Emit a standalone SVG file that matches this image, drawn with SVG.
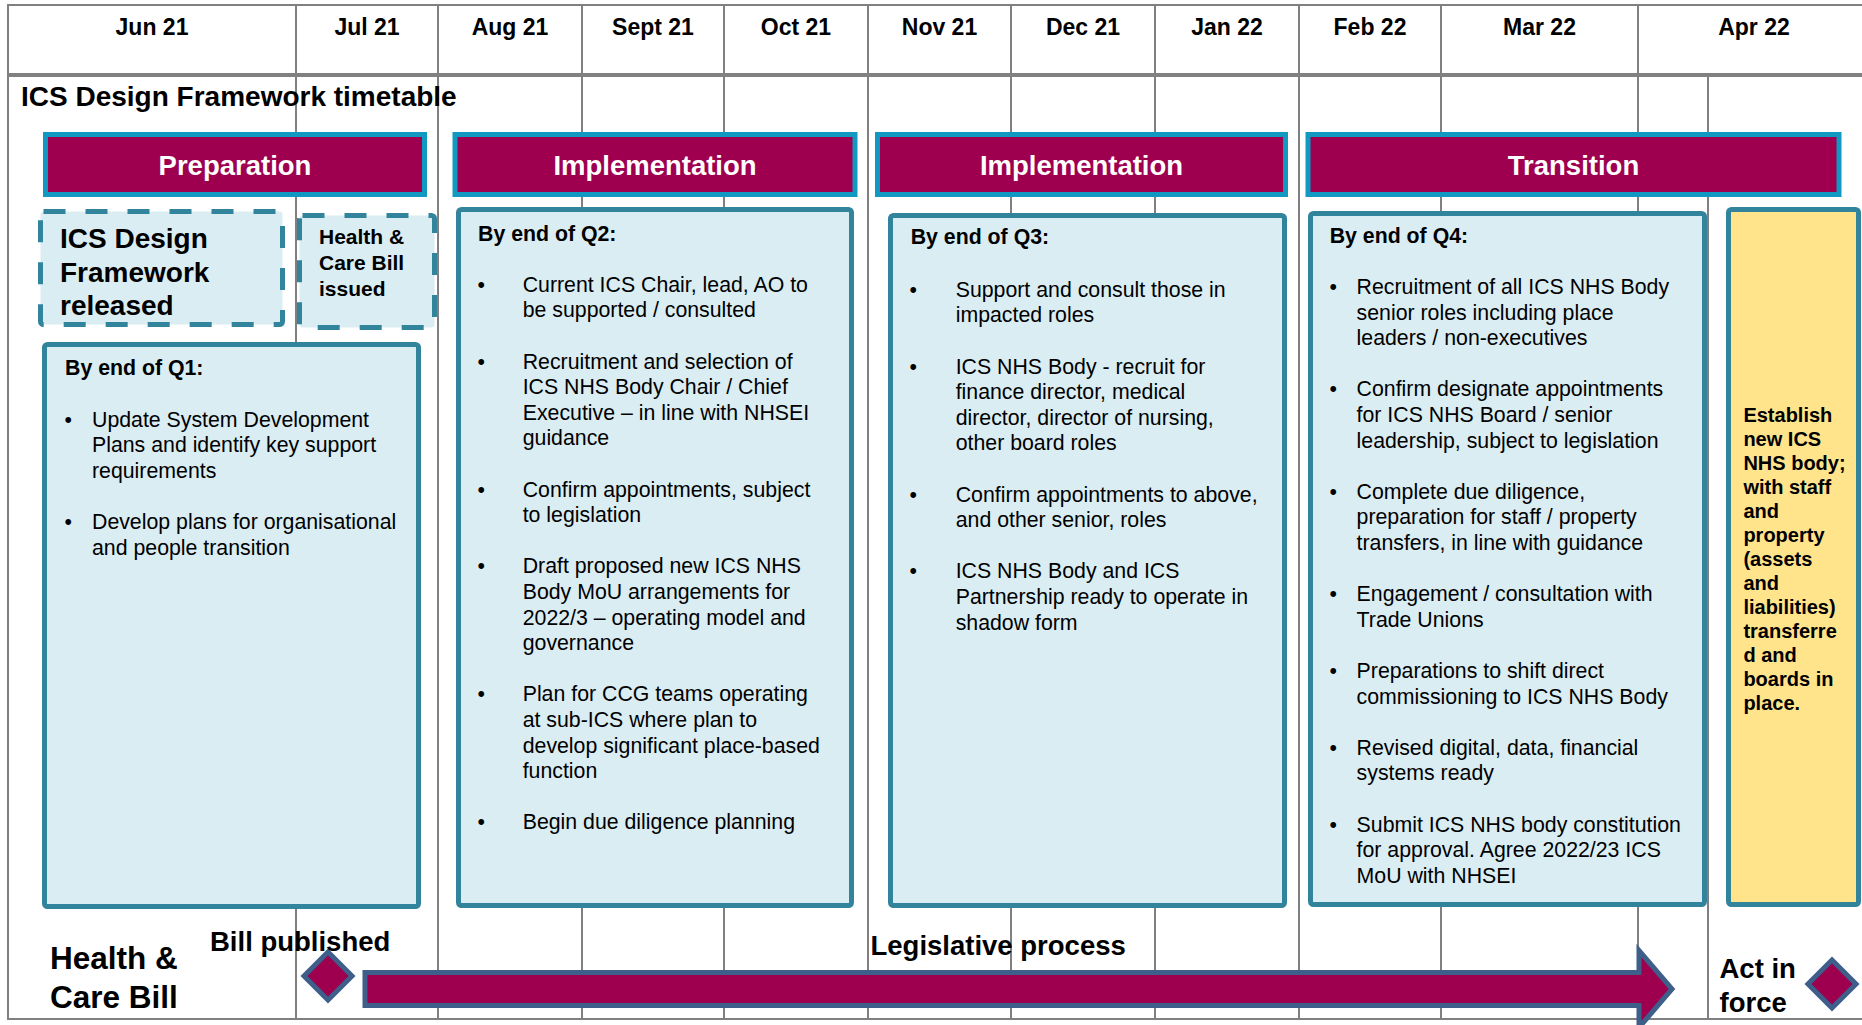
<svg xmlns="http://www.w3.org/2000/svg" width="1862" height="1025" viewBox="0 0 1862 1025">
<style>
.grid line{stroke:#808080;stroke-width:2}
.ban{fill:#9e004f;stroke:#1199c2;stroke-width:5}
.bt{fill:#fff;font-family:"Liberation Sans",Arial,sans-serif;font-weight:bold;font-size:27.5px;text-anchor:middle}
.box{fill:#daedf3;stroke:#31849b;stroke-width:5}
.dash{fill:#daedf3;stroke:#31849b;stroke-width:5;stroke-dasharray:22 20}
.yel{fill:#ffe48c;stroke:#31849b;stroke-width:5}
.t{font-family:"Liberation Sans",Arial,sans-serif;font-size:21.3px;fill:#000}
.h{font-family:"Liberation Sans",Arial,sans-serif;font-weight:bold;fill:#000}
.mon{font-family:"Liberation Sans",Arial,sans-serif;font-weight:bold;font-size:23px;text-anchor:middle;fill:#000}
.ms{fill:#9e004f;stroke:#3d5f8a;stroke-width:5}
</style>
<rect width="1862" height="1025" fill="#fff"/>
<g id="grid" class="grid">
<line x1="8" y1="5" x2="1862" y2="5"/>
<line x1="8" y1="4" x2="8" y2="1020"/>
<line x1="8" y1="1019" x2="1862" y2="1019"/>
<line x1="8" y1="75" x2="1862" y2="75" style="stroke-width:4"/>
<line x1="296" y1="5" x2="296" y2="1019"/>
<line x1="438" y1="5" x2="438" y2="1019"/>
<line x1="582" y1="5" x2="582" y2="1019"/>
<line x1="724" y1="5" x2="724" y2="1019"/>
<line x1="868" y1="5" x2="868" y2="1019"/>
<line x1="1011" y1="5" x2="1011" y2="1019"/>
<line x1="1155" y1="5" x2="1155" y2="1019"/>
<line x1="1299" y1="5" x2="1299" y2="1019"/>
<line x1="1441" y1="5" x2="1441" y2="1019"/>
<line x1="1638" y1="5" x2="1638" y2="1019"/>
<line x1="1708" y1="77" x2="1708" y2="1019"/>
</g>
<g id="months">
<text class="mon" x="152" y="35">Jun 21</text>
<text class="mon" x="367" y="35">Jul 21</text>
<text class="mon" x="510" y="35">Aug 21</text>
<text class="mon" x="653" y="35">Sept 21</text>
<text class="mon" x="796" y="35">Oct 21</text>
<text class="mon" x="939.5" y="35">Nov 21</text>
<text class="mon" x="1083" y="35">Dec 21</text>
<text class="mon" x="1227" y="35">Jan 22</text>
<text class="mon" x="1370" y="35">Feb 22</text>
<text class="mon" x="1539.5" y="35">Mar 22</text>
<text class="mon" x="1754" y="35">Apr 22</text>
</g>
<text id="title" class="h" x="21" y="106" font-size="28">ICS Design Framework timetable</text>
<g id="phase-preparation"><rect class="ban" x="45.5" y="134.5" width="379" height="60"/><text class="bt" x="235" y="175">Preparation</text></g>
<g id="phase-implementation-1"><rect class="ban" x="455" y="134.5" width="400" height="60"/><text class="bt" x="655" y="175">Implementation</text></g>
<g id="phase-implementation-2"><rect class="ban" x="877.5" y="134.5" width="408" height="60"/><text class="bt" x="1081.5" y="175">Implementation</text></g>
<g id="phase-transition"><rect class="ban" x="1308" y="134.5" width="531" height="60"/><text class="bt" x="1573.5" y="175">Transition</text></g>
<g id="framework-released"><rect class="dash" x="40.5" y="211.5" width="242" height="113" rx="3"/>
<text class="h" font-size="28" x="60" y="248">ICS Design<tspan x="60" y="281.5">Framework</tspan><tspan x="60" y="315">released</tspan></text></g>
<g id="bill-issued"><rect class="dash" x="299.5" y="215.5" width="135" height="112" rx="3"/>
<text class="h" font-size="21" x="319" y="244">Health &amp;<tspan x="319" y="270">Care Bill</tspan><tspan x="319" y="296">issued</tspan></text></g>
<g id="q1"><rect class="box" x="44.5" y="344.5" width="374" height="562" rx="3"/>
<text class="h" font-size="21.3" x="65" y="375">By end of Q1:</text>
<text class="t" x="64.5" y="426.7">•</text><text class="t" x="92" y="426.7">Update System Development<tspan x="92" dy="25.6">Plans and identify key support</tspan><tspan x="92" dy="25.6">requirements</tspan></text>
<text class="t" x="64.5" y="529.1">•</text><text class="t" x="92" y="529.1">Develop plans for organisational<tspan x="92" dy="25.6">and people transition</tspan></text>
</g>
<g id="q2"><rect class="box" x="458.5" y="209.5" width="393" height="696" rx="3"/>
<text class="h" font-size="21.3" x="478" y="240.7">By end of Q2:</text>
<text class="t" x="477.5" y="291.7">•</text><text class="t" x="522.7" y="291.7">Current ICS Chair, lead, AO to<tspan x="522.7" dy="25.6">be supported / consulted</tspan></text>
<text class="t" x="477.5" y="368.5">•</text><text class="t" x="522.7" y="368.5">Recruitment and selection of<tspan x="522.7" dy="25.6">ICS NHS Body Chair / Chief</tspan><tspan x="522.7" dy="25.6">Executive – in line with NHSEI</tspan><tspan x="522.7" dy="25.6">guidance</tspan></text>
<text class="t" x="477.5" y="496.5">•</text><text class="t" x="522.7" y="496.5">Confirm appointments, subject<tspan x="522.7" dy="25.6">to legislation</tspan></text>
<text class="t" x="477.5" y="573.3">•</text><text class="t" x="522.7" y="573.3">Draft proposed new ICS NHS<tspan x="522.7" dy="25.6">Body MoU arrangements for</tspan><tspan x="522.7" dy="25.6">2022/3 – operating model and</tspan><tspan x="522.7" dy="25.6">governance</tspan></text>
<text class="t" x="477.5" y="701.3">•</text><text class="t" x="522.7" y="701.3">Plan for CCG teams operating<tspan x="522.7" dy="25.6">at sub-ICS where plan to</tspan><tspan x="522.7" dy="25.6">develop significant place-based</tspan><tspan x="522.7" dy="25.6">function</tspan></text>
<text class="t" x="477.5" y="829.3">•</text><text class="t" x="522.7" y="829.3">Begin due diligence planning</text>
</g>
<g id="q3"><rect class="box" x="890.5" y="215.5" width="394" height="690" rx="3"/>
<text class="h" font-size="21.3" x="910.7" y="244">By end of Q3:</text>
<text class="t" x="909.5" y="296.7">•</text><text class="t" x="955.7" y="296.7">Support and consult those in<tspan x="955.7" dy="25.6">impacted roles</tspan></text>
<text class="t" x="909.5" y="373.5">•</text><text class="t" x="955.7" y="373.5">ICS NHS Body - recruit for<tspan x="955.7" dy="25.6">finance director, medical</tspan><tspan x="955.7" dy="25.6">director, director of nursing,</tspan><tspan x="955.7" dy="25.6">other board roles</tspan></text>
<text class="t" x="909.5" y="501.5">•</text><text class="t" x="955.7" y="501.5">Confirm appointments to above,<tspan x="955.7" dy="25.6">and other senior, roles</tspan></text>
<text class="t" x="909.5" y="578.3">•</text><text class="t" x="955.7" y="578.3">ICS NHS Body and ICS<tspan x="955.7" dy="25.6">Partnership ready to operate in</tspan><tspan x="955.7" dy="25.6">shadow form</tspan></text>
</g>
<g id="q4"><rect class="box" x="1310.5" y="213.5" width="394" height="691" rx="3"/>
<text class="h" font-size="21.3" x="1329.7" y="242.7">By end of Q4:</text>
<text class="t" x="1329.5" y="294">•</text><text class="t" x="1356.6" y="294">Recruitment of all ICS NHS Body<tspan x="1356.6" dy="25.6">senior roles including place</tspan><tspan x="1356.6" dy="25.6">leaders / non-executives</tspan></text>
<text class="t" x="1329.5" y="396.4">•</text><text class="t" x="1356.6" y="396.4">Confirm designate appointments<tspan x="1356.6" dy="25.6">for ICS NHS Board / senior</tspan><tspan x="1356.6" dy="25.6">leadership, subject to legislation</tspan></text>
<text class="t" x="1329.5" y="498.8">•</text><text class="t" x="1356.6" y="498.8">Complete due diligence,<tspan x="1356.6" dy="25.6">preparation for staff / property</tspan><tspan x="1356.6" dy="25.6">transfers, in line with guidance</tspan></text>
<text class="t" x="1329.5" y="601.2">•</text><text class="t" x="1356.6" y="601.2">Engagement / consultation with<tspan x="1356.6" dy="25.6">Trade Unions</tspan></text>
<text class="t" x="1329.5" y="678">•</text><text class="t" x="1356.6" y="678">Preparations to shift direct<tspan x="1356.6" dy="25.6">commissioning to ICS NHS Body</tspan></text>
<text class="t" x="1329.5" y="754.8">•</text><text class="t" x="1356.6" y="754.8">Revised digital, data, financial<tspan x="1356.6" dy="25.6">systems ready</tspan></text>
<text class="t" x="1329.5" y="831.6">•</text><text class="t" x="1356.6" y="831.6">Submit ICS NHS body constitution<tspan x="1356.6" dy="25.6">for approval. Agree 2022/23 ICS</tspan><tspan x="1356.6" dy="25.6">MoU with NHSEI</tspan></text>
</g>
<g id="establish"><rect class="yel" x="1728.5" y="209.5" width="130" height="695" rx="3"/>
<text class="h" font-size="20" x="1743.4" y="421.7">Establish<tspan x="1743.4" dy="24">new ICS</tspan><tspan x="1743.4" dy="24">NHS body;</tspan><tspan x="1743.4" dy="24">with staff</tspan><tspan x="1743.4" dy="24">and</tspan><tspan x="1743.4" dy="24">property</tspan><tspan x="1743.4" dy="24">(assets</tspan><tspan x="1743.4" dy="24">and</tspan><tspan x="1743.4" dy="24">liabilities)</tspan><tspan x="1743.4" dy="24">transferre</tspan><tspan x="1743.4" dy="24">d and</tspan><tspan x="1743.4" dy="24">boards in</tspan><tspan x="1743.4" dy="24">place.</tspan></text>
</g>
<g id="health-care-bill-label"><text class="h" font-size="31.5" x="50" y="969">Health &amp;<tspan x="50" y="1008">Care Bill</tspan></text></g>
<g id="bill-published"><polygon class="ms" points="328,952 352,976 328,1000 304,976"/><text class="h" font-size="27.5" x="210" y="951">Bill published</text></g>
<g id="connectors"><polygon class="ms" stroke-linejoin="miter" points="365,972.5 1639,972.5 1639,950.5 1672,989 1639,1027.5 1639,1005.5 365,1005.5"/></g>
<text id="legislative-process" class="h" font-size="27.5" x="870.5" y="955">Legislative process</text>
<g id="act-in-force"><polygon class="ms" points="1832,960 1856,984 1832,1008 1808,984"/><text class="h" font-size="27.5" x="1719.5" y="978">Act in<tspan x="1719.5" y="1012">force</tspan></text></g>
</svg>
